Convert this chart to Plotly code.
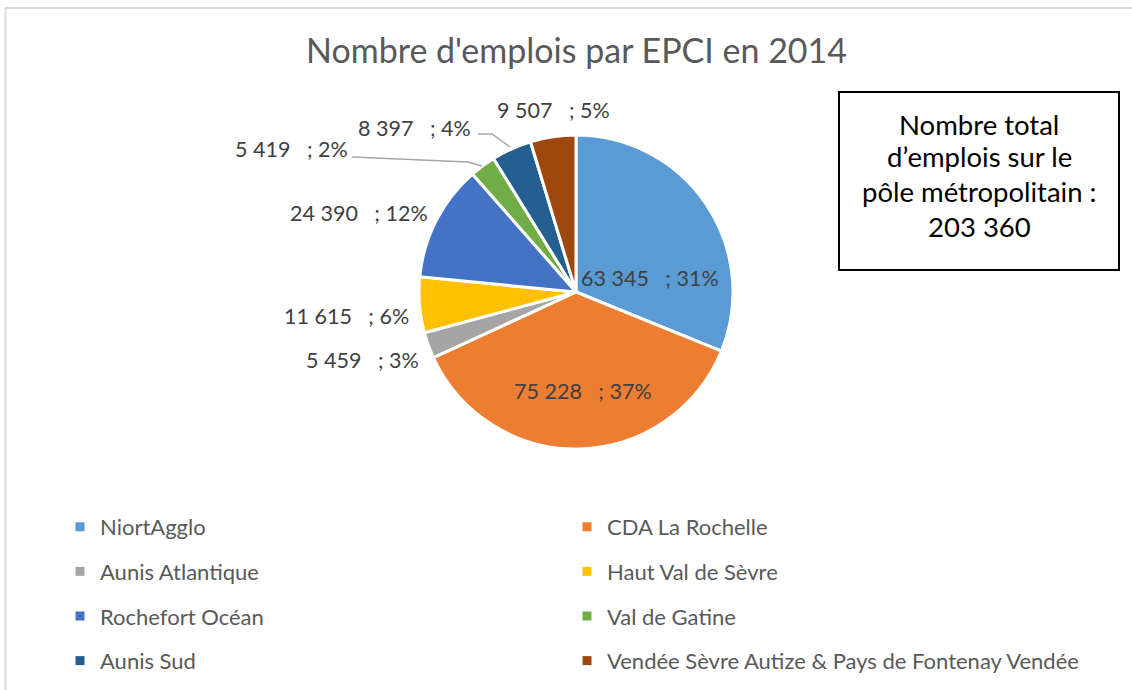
import plotly.graph_objects as go

# ---- data ----
categories = ["NiortAgglo", "CDA La Rochelle", "Aunis Atlantique", "Haut Val de Sèvre",
              "Rochefort Océan", "Val de Gatine", "Aunis Sud",
              "Vendée Sèvre Autize & Pays de Fontenay Vendée"]
values = [63345, 75228, 5459, 11615, 24390, 5419, 8397, 9507]
pct_labels = [31, 37, 3, 6, 12, 2, 4, 5]
colors = ["#5B9BD5", "#ED7D31", "#A5A5A5", "#FFC000", "#4472C4", "#70AD47", "#255E91", "#9E480E"]
title_text = "Nombre d'emplois par EPCI en 2014"

W, H = 1132, 690
FONT = "Lato, 'Noto Sans', sans-serif"


def px(x):
    return x / W


def py(y):
    return 1 - y / H


def fmt(n):
    return f"{n:,}".replace(",", " ")


total = sum(values)

fig = go.Figure()

# pie geometry (pixels)
cx, cy, r = 576, 292, 157
fig.add_trace(go.Pie(
    labels=categories, values=values, sort=False, direction="clockwise", rotation=0,
    marker=dict(colors=colors, line=dict(color="white", width=3)),
    textinfo="none", showlegend=False,
    domain=dict(x=[px(cx - r), px(cx + r)], y=[py(cy + r), py(cy - r)]),
))

# legend entries (dummy traces): left column = even index, right column = odd index
for i, (name, col) in enumerate(zip(categories, colors)):
    fig.add_trace(go.Scatter(
        x=[None], y=[None], mode="markers", name=name, legendgroup=f"g{i}",
        marker=dict(symbol="square", size=9, color=col),
        legend="legend" if i % 2 == 0 else "legend2",
        hoverinfo="skip",
    ))

legend_common = dict(orientation="v", yanchor="top", y=py(506), xanchor="left",
                     tracegroupgap=13, traceorder="grouped",
                     font=dict(family=FONT, size=22, color="#595959"),
                     bgcolor="rgba(0,0,0,0)", borderwidth=0, itemclick=False, itemdoubleclick=False)
legends = dict(legend=dict(legend_common, x=px(60)),
               legend2=dict(legend_common, x=px(567)))

# data labels
label_pos = [(650, 278), (583, 391), (362, 360), (346, 316), (359, 213), (291, 149), (414, 128), (553, 110)]
annotations = []
for (lx, ly), v, p in zip(label_pos, values, pct_labels):
    annotations.append(dict(
        x=px(lx), y=py(ly), xref="paper", yref="paper", showarrow=False,
        text=f"{fmt(v)}   ; {p}%", font=dict(family=FONT, size=21.5, color="#404040"),
        xanchor="center", yanchor="middle",
    ))

# title
annotations.append(dict(x=px(576), y=py(50), xref="paper", yref="paper", showarrow=False,
                        text=title_text, font=dict(family=FONT, size=34, color="#595959"),
                        xanchor="center", yanchor="middle"))

# total box text
box_lines = ["Nombre total", "d’emplois sur le", "pôle métropolitain :", fmt(total)]
box_y = [124, 157, 191, 226]
for t, yy in zip(box_lines, box_y):
    annotations.append(dict(x=px(979), y=py(yy), xref="paper", yref="paper", showarrow=False,
                            text=t, font=dict(family=FONT, size=27.5, color="#000000"),
                            xanchor="center", yanchor="middle"))

shapes = [
    # chart border (left & top)
    dict(type="line", xref="paper", yref="paper", x0=px(5.5), x1=px(5.5), y0=py(8), y1=0,
         line=dict(color="#D9D9D9", width=2)),
    dict(type="line", xref="paper", yref="paper", x0=px(5), x1=1, y0=py(8), y1=py(8),
         line=dict(color="#D9D9D9", width=2)),
    # total box
    dict(type="rect", xref="paper", yref="paper", x0=px(839), x1=px(1119), y0=py(92), y1=py(270),
         line=dict(color="#000000", width=2), fillcolor="rgba(0,0,0,0)"),
    # leader lines
    dict(type="path", xref="paper", yref="paper",
         path=f"M {px(352)},{py(157)} L {px(468)},{py(162)} L {px(482)},{py(166)}",
         line=dict(color="#A6A6A6", width=1.5)),
    dict(type="path", xref="paper", yref="paper",
         path=f"M {px(478)},{py(134)} L {px(492)},{py(134)} L {px(510)},{py(147)}",
         line=dict(color="#A6A6A6", width=1.5)),
]

fig.update_layout(
    width=W, height=H, margin=dict(l=0, r=0, t=0, b=0),
    paper_bgcolor="white", plot_bgcolor="white",
    xaxis=dict(visible=False), yaxis=dict(visible=False),
    annotations=annotations, shapes=shapes,
    **legends,
)

fig.write_html("out.html", config={"displayModeBar": False},
               post_script="document.body.style.margin='0';document.body.style.overflow='hidden';")
